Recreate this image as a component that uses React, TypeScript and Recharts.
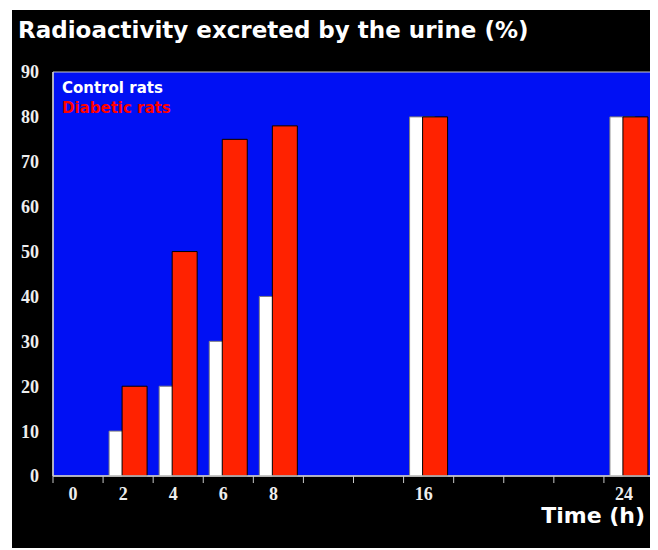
import React from "react";
import { BarChart, Bar, XAxis, YAxis, CartesianGrid, ReferenceArea } from "recharts";

const timeLabels = ["0", "2", "4", "6", "8", "", "", "16", "", "", "", "24"];
const controlRats = [null, 10, 20, 30, 40, null, null, 80, null, null, null, 80];
const diabeticRats = [null, 20, 50, 75, 78, null, null, 80, null, null, null, 80];
const yTicks = [0, 10, 20, 30, 40, 50, 60, 70, 80, 90];
const seriesNames = ["Control rats", "Diabetic rats"];

const data = timeLabels.map((label, i) => ({
  slot: i,
  label,
  control: controlRats[i],
  diabetic: diabeticRats[i],
}));

const BLUE = "#0010f4";
const RED = "#ff2200";
const AXIS = "#c8c8c8";
const TXT = "#eeeeee";

const XTick = (props: any) => {
  const { x, y, payload, index } = props;
  const off = payload && payload.offset ? payload.offset : 25;
  const last = index === timeLabels.length - 1;
  return (
    <g>
      <line x1={x - off} x2={x - off} y1={y} y2={y + 7} stroke={AXIS} strokeWidth={1} />
      {last && <line x1={x + off} x2={x + off} y1={y} y2={y + 7} stroke={AXIS} strokeWidth={1} />}
      <text
        x={x - 5}
        y={y + 24}
        textAnchor="middle"
        fill={TXT}
        fontFamily="'Liberation Serif', serif"
        fontWeight="bold"
        fontSize={18}
      >
        {timeLabels[index]}
      </text>
    </g>
  );
};

export default function App() {
  return (
    <div style={{ position: "relative", left: 4, top: 2, width: 646, height: 540, background: "#000" }}>
      <div
        style={{
          position: "absolute",
          left: 6,
          top: 9,
          fontFamily: "'DejaVu Sans', sans-serif",
          fontWeight: "bold",
          fontSize: 23,
          lineHeight: "23px",
          color: "#ffffff",
          whiteSpace: "nowrap",
        }}
      >
        Radioactivity excreted by the urine (%)
      </div>
      <BarChart
        width={646}
        height={540}
        data={data}
        margin={{ top: 62, right: 4, bottom: 44, left: 0 }}
        barGap={-12}
      >
        <CartesianGrid fill={BLUE} horizontal={false} vertical={false} />
        <XAxis
          dataKey="slot"
          type="category"
          height={30}
          axisLine={{ stroke: AXIS, strokeWidth: 1.5 }}
          tickLine={false}
          tickSize={0}
          tickMargin={0}
          interval={0}
          tick={<XTick />}
        />
        <YAxis
          width={41}
          domain={[0, 90]}
          ticks={yTicks}
          interval={0}
          tickLine={false}
          tickSize={0}
          tickMargin={14}
          axisLine={{ stroke: AXIS, strokeWidth: 1.5 }}
          tick={{ fill: TXT, fontFamily: "'Liberation Serif', serif", fontWeight: "bold", fontSize: 18 }}
        />
        <Bar dataKey="control" name={seriesNames[0]} fill="#ffffff" stroke="#808080" strokeWidth={1} barSize={25} isAnimationActive={false} />
        <Bar dataKey="diabetic" name={seriesNames[1]} fill={RED} stroke="#000000" strokeWidth={1} barSize={25} isAnimationActive={false} />
        <ReferenceArea y1={0} y2={90} fill="none" stroke={AXIS} strokeWidth={1} fillOpacity={0} />
      </BarChart>
      <div
        style={{
          position: "absolute",
          left: 50,
          top: 68,
          fontFamily: "'DejaVu Sans', sans-serif",
          fontWeight: "bold",
          fontSize: 15,
          lineHeight: "20px",
          whiteSpace: "nowrap",
        }}
      >
        <div style={{ color: "#ffffff" }}>{seriesNames[0]}</div>
        <div style={{ color: "#ff0000" }}>{seriesNames[1]}</div>
      </div>
      <div
        style={{
          position: "absolute",
          right: 13,
          top: 495,
          fontFamily: "'DejaVu Sans', sans-serif",
          fontWeight: "bold",
          fontSize: 22,
          lineHeight: "22px",
          color: "#ffffff",
          whiteSpace: "nowrap",
        }}
      >
        Time (h)
      </div>
    </div>
  );
}
